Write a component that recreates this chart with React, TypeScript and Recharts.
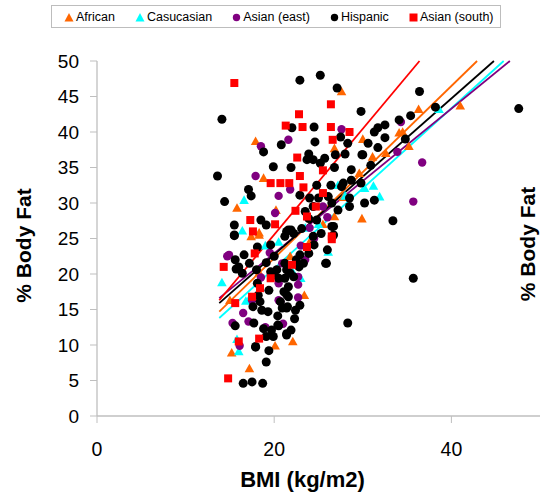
import React from 'react';
import { ScatterChart, Scatter, XAxis, YAxis, ReferenceLine } from 'recharts';

// ---- data: [BMI, %BodyFat] ----
const african: [number, number][] = [
  [15.8, 29.3], [17.9, 38.7], [18.8, 33.5], [20.2, 29.0], [18.3, 25.8], [17.4, 25.3], [18.3, 20.2],
  [23.4, 17.0], [22.1, 10.5], [20.1, 9.9], [17.2, 6.7], [15.2, 8.9], [27.6, 45.7], [26.8, 37.7],
  [30.0, 39.0], [31.1, 36.5], [29.9, 27.8], [26.8, 28.1], [34.5, 40.0], [35.2, 38.0], [32.6, 37.0],
  [36.3, 43.2], [41.0, 43.7], [34.1, 39.9], [29.6, 34.2], [15.0, 16.3], [24.0, 24.5], [21.8, 22.5],
  [25.5, 27.0], [27.8, 30.8], [18.3, 25.5],
];
const caucasian: [number, number][] = [
  [16.6, 30.4], [16.4, 26.1], [14.1, 18.8], [16.8, 16.2], [16.0, 9.1], [15.8, 10.8], [27.2, 32.5],
  [30.2, 32.1], [31.2, 32.4], [31.9, 30.9], [38.6, 43.2], [23.0, 19.4], [26.1, 23.1], [17.1, 16.3],
  [20.5, 24.5], [19.0, 24.0], [25.0, 27.0], [28.0, 31.0], [23.5, 26.5], [22.0, 20.5],
];
const asianEast: [number, number][] = [
  [18.5, 38.0], [21.6, 38.9], [17.9, 33.8], [21.8, 31.9], [20.5, 31.0], [20.1, 28.6], [27.6, 40.4],
  [14.7, 22.5], [14.9, 22.7], [15.3, 13.1], [16.1, 9.9], [17.1, 13.3], [17.5, 16.3], [20.5, 18.7],
  [20.7, 16.1], [22.7, 19.6], [22.7, 16.7], [22.7, 18.5], [20.9, 21.5], [20.5, 16.3], [25.5, 29.5],
  [33.9, 37.2], [36.7, 35.7], [35.7, 30.2], [34.3, 41.4], [23.5, 22.0], [24.5, 25.0], [19.5, 23.0],
  [16.5, 14.5], [24.0, 26.5], [26.0, 28.0], [18.5, 19.5], [19.0, 12.5], [21.0, 13.0], [23.0, 24.0],
];
const hispanic: [number, number][] = [
  [22.9, 47.3], [25.2, 48.0], [27.1, 46.2], [29.8, 42.9], [22.0, 40.6], [24.5, 40.7], [31.3, 40.0],
  [18.8, 37.2], [20.8, 38.2], [24.6, 38.6], [27.5, 39.3], [28.3, 38.4], [30.6, 38.4], [23.9, 36.9],
  [23.7, 36.1], [24.4, 36.1], [25.2, 35.6], [25.7, 36.3], [26.9, 36.8], [28.0, 36.9], [29.9, 36.8],
  [19.9, 35.1], [21.9, 35.0], [26.8, 35.0], [28.7, 34.7], [30.9, 35.3], [26.4, 32.5], [27.6, 32.3],
  [28.7, 33.2], [29.8, 32.8], [17.1, 31.9], [17.4, 31.0], [22.9, 31.1], [24.0, 30.7], [25.0, 30.7],
  [26.1, 30.9], [28.5, 30.7], [15.5, 26.9], [18.5, 27.6], [19.1, 26.9], [15.5, 25.5], [21.4, 26.0],
  [22.2, 25.7], [23.1, 26.4], [26.7, 26.7], [14.1, 41.8], [13.6, 33.8], [14.4, 30.2], [36.4, 45.7],
  [38.2, 43.5], [47.6, 43.3], [34.1, 41.7], [35.4, 42.3], [32.5, 39.2], [31.7, 40.6], [34.8, 39.0],
  [31.7, 37.8], [33.4, 27.5], [35.7, 19.4], [28.3, 13.1], [30.0, 36.8], [27.8, 32.8], [25.8, 21.5],
  [26.0, 23.4], [22.9, 22.7], [22.9, 15.6], [22.3, 13.7], [21.9, 12.1], [21.4, 11.4], [19.9, 11.2],
  [19.1, 11.2], [19.4, 9.2], [19.1, 7.6], [17.9, 9.7], [16.5, 4.6], [17.5, 4.8], [18.7, 4.6],
  [15.6, 12.7], [17.7, 13.1], [18.6, 14.9], [19.3, 14.7], [17.6, 15.4], [18.4, 16.1], [20.4, 14.1],
  [20.5, 12.7], [21.4, 15.2], [20.7, 16.1], [19.4, 17.7], [21.2, 19.4], [21.8, 20.1], [21.6, 16.8],
  [22.8, 21.0], [16.6, 22.7], [15.6, 22.0], [18.1, 23.8], [19.6, 24.1], [23.9, 22.9], [24.5, 24.1],
  [21.2, 21.5], [20.3, 20.6], [18.2, 17.0], [21.4, 17.1], [21.5, 15.4], [20.9, 15.2], [22.2, 19.6],
  [19.7, 12.1], [17.2, 21.5], [18.0, 20.6], [16.4, 20.1], [15.7, 20.7], [19.1, 21.6], [19.6, 20.3],
  [15.5, 25.4], [21.9, 26.2], [24.4, 25.3], [25.3, 25.7], [26.5, 26.7], [25.9, 21.5], [23.3, 21.5],
  [22.5, 22.0], [21.4, 20.6], [19.9, 20.1], [20.5, 19.4], [21.6, 18.2], [21.1, 17.5], [22.4, 14.9],
  [18.8, 12.3], [20.4, 12.8], [21.4, 11.6], [24.4, 29.5], [23.5, 28.8], [26.5, 30.0], [27.2, 29.0],
  [28.5, 29.5], [23.9, 27.8], [24.8, 27.6], [21.6, 26.2], [21.2, 25.3], [26.7, 25.5], [30.2, 30.0],
  [31.3, 30.4], [18.1, 18.7], [17.9, 9.8], [16.0, 21.0], [32.5, 41.0], [20.0, 22.5], [24.8, 32.5],
];
const asianSouth: [number, number][] = [
  [15.5, 46.9], [26.4, 43.9], [22.8, 42.5], [21.3, 40.9], [23.2, 40.7], [26.4, 40.7], [28.5, 40.0],
  [26.6, 38.9], [22.6, 36.4], [25.5, 34.6], [22.9, 33.8], [19.6, 32.8], [20.7, 32.8], [21.7, 32.8],
  [23.3, 32.2], [25.5, 31.4], [22.4, 28.9], [24.7, 29.5], [23.7, 28.1], [17.3, 27.6], [20.1, 27.0],
  [17.6, 26.0], [17.8, 22.9], [14.3, 21.0], [15.6, 15.9], [17.5, 16.8], [18.4, 18.0], [19.6, 19.4],
  [22.0, 21.3], [23.7, 23.8], [26.5, 24.9], [26.5, 25.3], [18.3, 10.9], [16.0, 10.5], [14.8, 5.3],
];

// trend lines: [start, end] as [BMI, %BodyFat]
const trendAfrican: [number, number][] = [[13.8, 14.7], [42.9, 50]];
const trendCaucasian: [number, number][] = [[13.8, 13.8], [45.9, 50]];
const trendAsianEast: [number, number][] = [[13.8, 16.6], [46.6, 50]];
const trendHispanic: [number, number][] = [[13.8, 15.9], [44.8, 50]];
const trendAsianSouth: [number, number][] = [[13.8, 16.3], [36.4, 50]];

const xTicks = [0, 20, 40];
const yTicks = [0, 5, 10, 15, 20, 25, 30, 35, 40, 45, 50];

const legendNames = ['African', 'Casucasian', 'Asian (east)', 'Hispanic', 'Asian (south)'];

const C_AFR = '#FF6600';
const C_CAU = '#00FFFF';
const C_AE = '#800080';
const C_HIS = '#000000';
const C_AS = '#FF0000';

const FONT = '"Liberation Sans", Arial, Helvetica, sans-serif';

const toPts = (a: [number, number][]) => a.map(([x, y]) => ({ x, y }));
const toSeg = (a: [number, number][]) => a.map(([x, y]) => ({ x, y }));

const triShape = (color: string) => (p: any) => {
  const { cx, cy } = p;
  return <polygon points={`${cx},${cy - 4.8} ${cx + 4.8},${cy + 3.8} ${cx - 4.8},${cy + 3.8}`} fill={color} />;
};
const circleShape = (color: string, r: number) => (p: any) => <circle cx={p.cx} cy={p.cy} r={r} fill={color} />;
const squareShape = (color: string) => (p: any) => <rect x={p.cx - 4} y={p.cy - 4} width={8} height={8} fill={color} />;

const LegendMarker = ({ kind, color }: { kind: string; color: string }) => {
  if (kind === 'tri')
    return (
      <svg width={10} height={10} style={{ marginRight: 2, flexShrink: 0 }}>
        <polygon points="5,1 9.5,9.5 0.5,9.5" fill={color} />
      </svg>
    );
  if (kind === 'circle')
    return (
      <svg width={9} height={10} style={{ marginRight: 2, flexShrink: 0 }}>
        <circle cx={4.5} cy={5.5} r={3.7} fill={color} />
      </svg>
    );
  return (
    <svg width={9} height={10} style={{ marginRight: 2, flexShrink: 0 }}>
      <rect x={0.5} y={1.5} width={8} height={8} fill={color} />
    </svg>
  );
};

const legendKinds = [
  { kind: 'tri', color: C_AFR },
  { kind: 'tri', color: C_CAU },
  { kind: 'circle', color: C_AE },
  { kind: 'circle', color: C_HIS },
  { kind: 'square', color: C_AS },
];

export default function App() {
  const axisGrey = '#BFBFBF';
  return (
    <div style={{ position: 'absolute', left: 0, top: 0, width: 540, height: 499, background: '#fff', overflow: 'hidden' }}>
      <ScatterChart width={540} height={499} margin={{ top: 61, right: 0, bottom: 0, left: 0 }}>
        <XAxis
          type="number"
          dataKey="x"
          domain={[0, 50]}
          ticks={xTicks}
          height={83}
          stroke={axisGrey}
          tickSize={7}
          tickMargin={19}
          tick={{ fontSize: 19.5, fill: '#000', fontFamily: FONT }}
          axisLine={{ stroke: axisGrey, strokeWidth: 1.3 }}
          tickLine={{ stroke: axisGrey }}
          allowDataOverflow
          label={{
            content: (props: any) => {
              const vb = props.viewBox || { x: 97, y: 416, width: 443 };
              return (
                <text
                  x={vb.x + vb.width / 2 - 16}
                  y={vb.y + 71}
                  textAnchor="middle"
                  fontFamily={FONT}
                  fontWeight="bold"
                  fontSize={22}
                  fill="#000"
                >
                  BMI (kg/m2)
                </text>
              );
            },
          }}
        />
        <YAxis
          type="number"
          dataKey="y"
          domain={[0, 50]}
          ticks={yTicks}
          width={97}
          stroke={axisGrey}
          tickSize={7}
          tickMargin={11}
          tick={{ fontSize: 19, fill: '#000', fontFamily: FONT }}
          axisLine={{ stroke: axisGrey, strokeWidth: 1.3 }}
          tickLine={{ stroke: axisGrey }}
          allowDataOverflow
          label={{
            content: (props: any) => {
              const vb = props.viewBox || { x: 0, y: 61, height: 355 };
              const cx = vb.x + 23;
              const cy = vb.y + vb.height / 2 + 7;
              return (
                <text
                  x={cx}
                  y={cy}
                  transform={`rotate(-90, ${cx}, ${cy})`}
                  textAnchor="middle"
                  dominantBaseline="central"
                  fontFamily={FONT}
                  fontWeight="bold"
                  fontSize={21}
                  fill="#000"
                >
                  % Body Fat
                </text>
              );
            },
          }}
        />
        <Scatter name="African" data={toPts(african)} fill={C_AFR} shape={triShape(C_AFR)} isAnimationActive={false} />
        <Scatter name="Casucasian" data={toPts(caucasian)} fill={C_CAU} shape={triShape(C_CAU)} isAnimationActive={false} />
        <Scatter name="Asian (east)" data={toPts(asianEast)} fill={C_AE} shape={circleShape(C_AE, 4.2)} isAnimationActive={false} />
        <Scatter name="Hispanic" data={toPts(hispanic)} fill={C_HIS} shape={circleShape(C_HIS, 4.5)} isAnimationActive={false} />
        <Scatter name="Asian (south)" data={toPts(asianSouth)} fill={C_AS} shape={squareShape(C_AS)} isAnimationActive={false} />
        <ReferenceLine segment={toSeg(trendAfrican)} stroke={C_AFR} strokeWidth={1.8} />
        <ReferenceLine segment={toSeg(trendCaucasian)} stroke={C_CAU} strokeWidth={1.8} />
        <ReferenceLine segment={toSeg(trendAsianEast)} stroke={C_AE} strokeWidth={1.8} />
        <ReferenceLine segment={toSeg(trendHispanic)} stroke={C_HIS} strokeWidth={1.8} />
        <ReferenceLine segment={toSeg(trendAsianSouth)} stroke={C_AS} strokeWidth={1.8} />
      </ScatterChart>

      <svg width={540} height={499} style={{ position: 'absolute', left: 0, top: 0, pointerEvents: 'none' }}>
        <text
          x={527}
          y={244}
          transform="rotate(-90, 527, 244)"
          textAnchor="middle"
          dominantBaseline="central"
          fontFamily={FONT}
          fontWeight="bold"
          fontSize={21}
          fill="#000"
        >
          % Body Fat
        </text>
      </svg>

      <div
        style={{
          position: 'absolute',
          left: 51,
          top: 5,
          width: 450,
          height: 23,
          boxSizing: 'border-box',
          border: '1px solid #BDBDBD',
          display: 'flex',
          alignItems: 'center',
          paddingLeft: 12,
          fontFamily: FONT,
          fontSize: 12.5,
          color: '#000',
          background: '#fff',
          whiteSpace: 'nowrap',
          overflow: 'visible',
        }}
      >
        {legendNames.map((n, i) => (
          <div key={n} style={{ display: 'flex', alignItems: 'center', marginRight: 20, flexShrink: 0 }}>
            <LegendMarker kind={legendKinds[i].kind} color={legendKinds[i].color} />
            <span style={{ whiteSpace: 'nowrap' }}>{n}</span>
          </div>
        ))}
      </div>
    </div>
  );
}
